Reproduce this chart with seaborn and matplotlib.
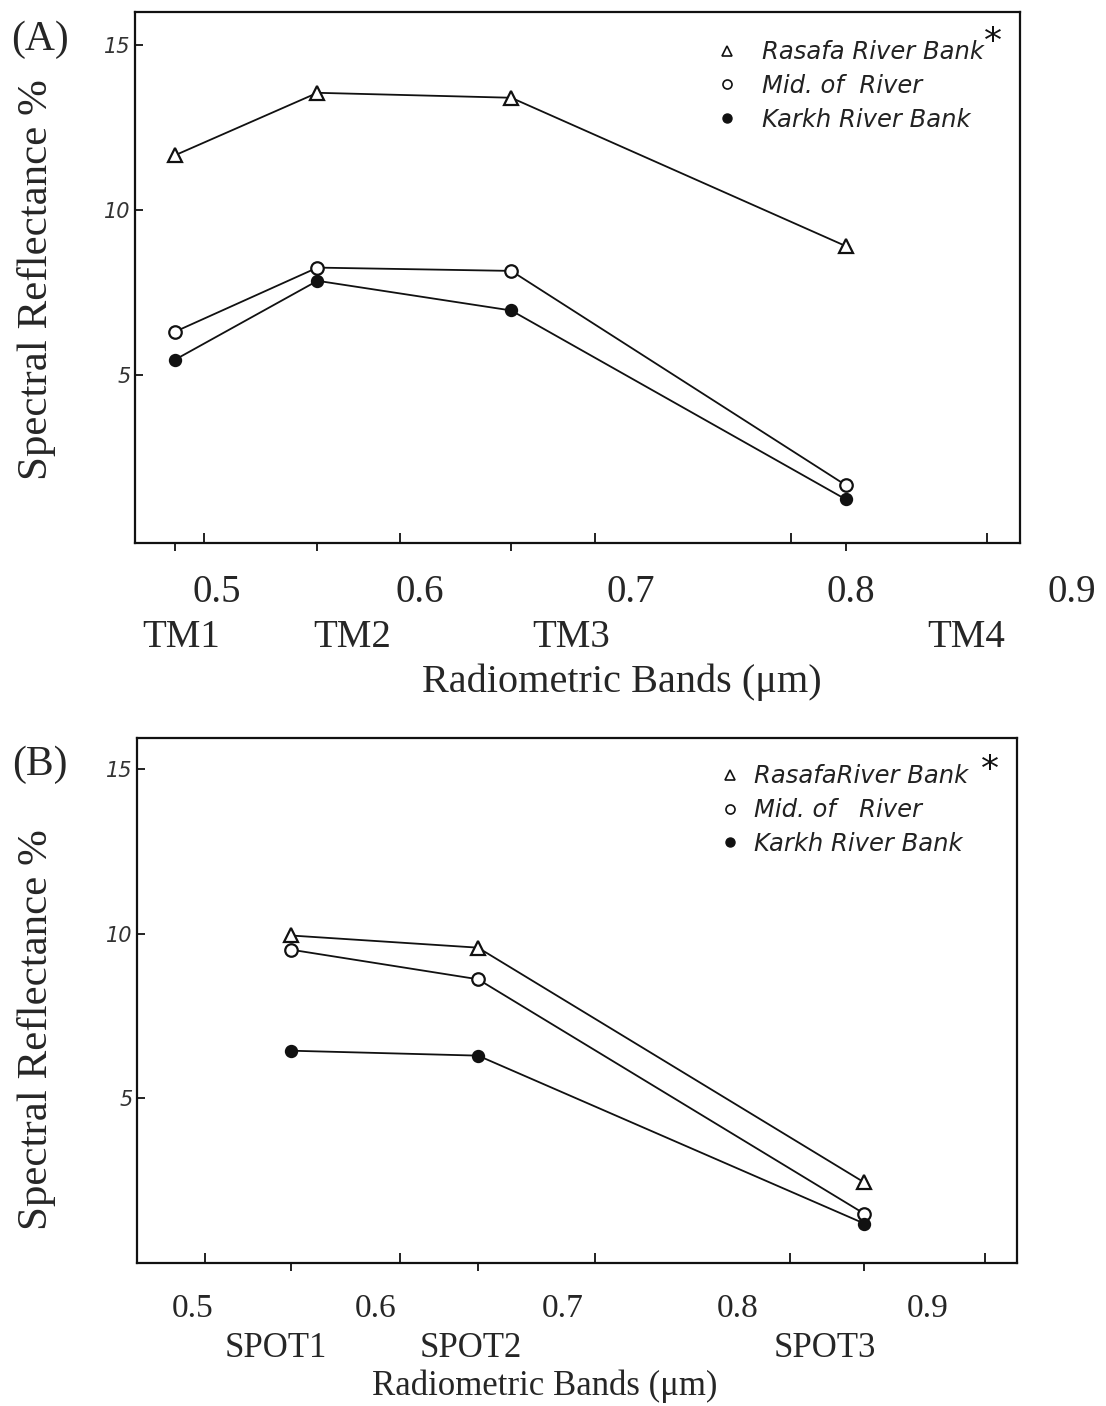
import numpy as np
import pandas as pd
import matplotlib
matplotlib.use("Agg")
import matplotlib.pyplot as plt
import seaborn as sns
from matplotlib.lines import Line2D

# ---------------- data ----------------
tm_bands = ["TM1", "TM2", "TM3", "TM4"]
tm_wavelength = [0.485, 0.558, 0.657, 0.828]
tm_rasafa = [11.65, 13.55, 13.4, 8.9]
tm_mid = [6.3, 8.25, 8.15, 1.65]
tm_karkh = [5.45, 7.85, 6.95, 1.22]

spot_bands = ["SPOT1", "SPOT2", "SPOT3"]
spot_wavelength = [0.544, 0.640, 0.838]
spot_rasafa = [9.95, 9.58, 2.45]
spot_mid = [9.52, 8.62, 1.5]
spot_karkh = [6.45, 6.3, 1.2]

x_tick_values = [0.5, 0.6, 0.7, 0.8, 0.9]
x_tick_labels = ["0.5", "0.6", "0.7", "0.8", "0.9"]
y_tick_values = [5, 10, 15]
y_tick_labels = ["5", "10", "15"]

legend_a = ["Rasafa River Bank", "Mid. of  River", "Karkh River Bank"]
legend_b = ["RasafaRiver Bank", "Mid. of   River", "Karkh River Bank"]

# ---------------- style ----------------
sns.set_style("white")
plt.rcParams["font.family"] = ["DejaVu Sans"]
INK = "#111111"
SERIF = ["Liberation Serif", "DejaVu Serif"]

W, H = 1106, 1406
fig = plt.figure(figsize=(W / 100, H / 100), dpi=100)
fig.patch.set_facecolor("white")


def fpos(x, y):
    return x / W, 1 - y / H


def add_axes_px(left, top, right, bottom):
    return fig.add_axes([left / W, 1 - bottom / H, (right - left) / W, (bottom - top) / H])


styles = [
    dict(marker="^", markersize=10, markerfacecolor="white"),
    dict(marker="o", markersize=9, markerfacecolor="white"),
    dict(marker="o", markersize=8, markerfacecolor=INK),
]


def draw_panel(ax, wl, series, band_ticks, xlim, ylim):
    for vals, st in zip(series, styles):
        df = pd.DataFrame({"wavelength": wl, "reflectance": vals})
        sns.lineplot(data=df, x="wavelength", y="reflectance", ax=ax, color=INK,
                     lw=1.3, markeredgecolor=INK, markeredgewidth=1.6,
                     sort=False, legend=False, **st)
    ax.set_xlim(*xlim)
    ax.set_ylim(*ylim)
    ax.set_xlabel("")
    ax.set_ylabel("")
    ax.set_xticks(x_tick_values)
    ax.set_xticklabels([""] * len(x_tick_values))
    ax.set_xticks(band_ticks, minor=True)
    ax.tick_params(axis="x", which="major", direction="in", length=7, width=1.3, color=INK)
    ax.tick_params(axis="x", which="minor", direction="out", length=6, width=1.3, color=INK)
    ax.set_yticks(y_tick_values)
    ax.set_yticklabels(y_tick_labels, fontstyle="italic", fontsize=15, color="#333333")
    ax.tick_params(axis="y", which="major", direction="in", length=6, width=1.3,
                   color=INK, pad=3, left=True)
    ax.tick_params(axis="x", bottom=True, which="both")
    for sp in ax.spines.values():
        sp.set_visible(True)
        sp.set_color(INK)
        sp.set_linewidth(1.6)
    ax.set_facecolor("white")


def draw_legend(ax, labels, anchor, textpad):
    handles = [
        Line2D([], [], ls="none", marker="^", markersize=7, markerfacecolor="white",
               markeredgecolor=INK, markeredgewidth=1.2),
        Line2D([], [], ls="none", marker="o", markersize=6.5, markerfacecolor="white",
               markeredgecolor=INK, markeredgewidth=1.2),
        Line2D([], [], ls="none", marker="o", markersize=6.5, markerfacecolor=INK,
               markeredgecolor=INK),
    ]
    leg = ax.legend(handles, labels, loc="upper left", bbox_to_anchor=anchor,
                    bbox_transform=ax.transAxes, frameon=False, borderpad=0,
                    handlelength=1.0, handletextpad=textpad, labelspacing=0.4,
                    prop=dict(family="DejaVu Sans", style="italic", size=17.5))
    for t in leg.get_texts():
        t.set_color("#222222")


# ---------------- panel A ----------------
axA = add_axes_px(135, 12, 1020, 543)
draw_panel(axA, tm_wavelength, [tm_rasafa, tm_mid, tm_karkh], tm_wavelength,
           (0.4648, 0.9169), (-0.1, 16.0))
draw_legend(axA, legend_a, (0.642, 0.970), 0.9)
fig.text(*fpos(993, 42), "*", fontsize=26, ha="center", va="center", color=INK)

fig.text(*fpos(40, 40), "(A)", family=SERIF, fontsize=30, ha="center", va="center")
fig.text(*fpos(37, 280), "Spectral Reflectance %", family=SERIF, fontsize=31,
         rotation=90, ha="center", va="center")
for lab, xc in zip(x_tick_labels, [217, 420, 631, 851, 1072]):
    fig.text(*fpos(xc, 602), lab, family=SERIF, fontsize=28, ha="center", va="baseline")
for lab, xc in zip(tm_bands, [181, 352, 571, 966]):
    fig.text(*fpos(xc, 647), lab, family=SERIF, fontsize=28, ha="center", va="baseline")
fig.text(*fpos(622, 692), "Radiometric Bands (\u03bcm)", family=SERIF, fontsize=29,
         ha="center", va="baseline")

# ---------------- panel B ----------------
axB = add_axes_px(137, 738, 1017, 1263)
draw_panel(axB, spot_wavelength, [spot_rasafa, spot_mid, spot_karkh], spot_wavelength,
           (0.4651, 0.9164), (0.0, 15.95))
draw_legend(axB, legend_b, (0.646, 0.973), 0.5)
fig.text(*fpos(990, 770), "*", fontsize=26, ha="center", va="center", color=INK)

fig.text(*fpos(40, 765), "(B)", family=SERIF, fontsize=30, ha="center", va="center")
fig.text(*fpos(37, 1030), "Spectral Reflectance %", family=SERIF, fontsize=31,
         rotation=90, ha="center", va="center")
for lab, xc in zip(x_tick_labels, [193, 376, 563, 738, 928]):
    fig.text(*fpos(xc, 1317), lab, family=SERIF, fontsize=24, ha="center", va="baseline")
for lab, xc in zip(spot_bands, [276, 471, 825]):
    fig.text(*fpos(xc, 1357), lab, family=SERIF, fontsize=25, ha="center", va="baseline")
fig.text(*fpos(545, 1395), "Radiometric Bands (\u03bcm)", family=SERIF, fontsize=25,
         ha="center", va="baseline")

fig.savefig("out.png", dpi=100, facecolor="white")
